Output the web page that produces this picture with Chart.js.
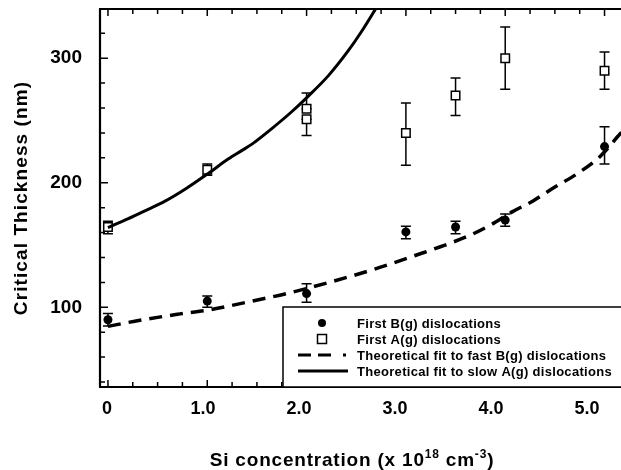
<!DOCTYPE html>
<html>
<head>
<meta charset="utf-8">
<script src="https://cdn.jsdelivr.net/npm/chart.js@4/dist/chart.umd.min.js"></script>
<style>
  html, body { margin: 0; padding: 0; background: #fff; overflow: hidden; }
  canvas { display: block; }
</style>
</head>
<body>
<canvas id="chart" width="640" height="470"></canvas>
<script>
// ── Data ───────────────────────────────────────────────────────────────────
// First B(g) dislocations (filled circles) with error bar ends
const B_X  = [0, 1, 2, 3, 3.5, 4, 5];
const B_Y  = [90, 105, 111, 160.5, 164.5, 170, 229];
const B_LO = [85, 100, 104, 155, 159, 165, 215];
const B_HI = [95, 109, 119, 165, 169, 175, 245];

// First A(g) dislocations (open squares) with error bar ends
const A_X  = [0, 1, 2, 2, 3, 3.5, 4, 5];
const A_Y  = [164.5, 210.5, 259.5, 251, 240, 270, 300, 290];
const A_LO = [159, 206, 259.5, 238, 214, 254, 275, 275];
const A_HI = [169, 215, 272, 251, 264, 284, 325, 305];

// Theoretical fit to fast B(g) dislocations (dashed)
const FIT_B_X = [0, 0.27, 0.7, 1.0, 1.41, 1.8, 2.24, 2.7, 3.1, 3.34, 3.65, 3.85, 4.07, 4.28, 4.5, 4.72, 4.95, 5.16, 5.25];
const FIT_B_Y = [84.7, 88.8, 94.4, 97.6, 104.3, 111, 120.3, 131, 141.8, 148.4, 158, 166, 176.6, 185.4, 196.6, 207, 220.7, 239.5, 247];

// Theoretical fit to slow A(g) dislocations (solid)
const FIT_A_X = [0, 0.2, 0.4, 0.57, 0.78, 1.01, 1.21, 1.35, 1.45, 1.65, 1.85, 2.01, 2.22, 2.42, 2.55, 2.69, 2.75];
const FIT_A_Y = [164, 171, 178.5, 185, 195, 207.5, 219, 226, 231, 243.5, 257, 269, 286, 306, 321, 339, 347];

// Axis ticks
const X_TICKS      = [0, 0.25, 0.5, 0.75, 1, 1.25, 1.5, 1.75, 2, 2.25, 2.5, 2.75, 3, 3.25, 3.5, 3.75, 4, 4.25, 4.5, 4.75, 5, 5.25];
const X_LABEL_VALS = [0, 1, 2, 3, 4, 5];
const X_LABELS     = ['0', '1.0', '2.0', '3.0', '4.0', '5.0'];
const Y_TICKS      = [40, 60, 80, 100, 120, 140, 160, 180, 200, 220, 240, 260, 280, 300, 320];
const Y_LABELS     = [100, 200, 300];

const LEGEND_TEXT = [
  'First B(g) dislocations',
  'First A(g) dislocations',
  'Theoretical fit to fast B(g) dislocations',
  'Theoretical fit to slow A(g) dislocations',
];

const FONT = '"Liberation Sans", Arial, sans-serif';

function pts(xs, ys) { return xs.map((x, i) => ({ x, y: ys[i] })); }

// ── Plugin: error bars drawn under the markers ────────────────────────────
const errorBars = {
  id: 'errorBars',
  beforeDatasetsDraw(chart) {
    const { ctx } = chart;
    const xs = chart.scales.x, ys = chart.scales.y;
    const sets = [[B_X, B_LO, B_HI], [A_X, A_LO, A_HI]];
    ctx.save();
    ctx.strokeStyle = '#000';
    ctx.lineWidth = 1.5;
    sets.forEach(([X, LO, HI]) => {
      X.forEach((v, i) => {
        const px = xs.getPixelForValue(v);
        const lo = ys.getPixelForValue(LO[i]);
        const hi = ys.getPixelForValue(HI[i]);
        ctx.beginPath();
        ctx.moveTo(px, lo); ctx.lineTo(px, hi);
        ctx.moveTo(px - 5, lo); ctx.lineTo(px + 5, lo);
        ctx.moveTo(px - 5, hi); ctx.lineTo(px + 5, hi);
        ctx.stroke();
      });
    });
    ctx.restore();
  }
};

// ── Plugin: frame, inward ticks, titles, legend ───────────────────────────
const frame = {
  id: 'frame',
  afterDraw(chart) {
    const { ctx, chartArea: a } = chart;
    const xs = chart.scales.x, ys = chart.scales.y;
    ctx.save();
    ctx.strokeStyle = '#000';

    // inward ticks
    ctx.lineWidth = 1.5;
    ctx.beginPath();
    X_TICKS.forEach(v => {
      const px = xs.getPixelForValue(v);
      const len = Number.isInteger(v) ? 7 : 5;
      ctx.moveTo(px, a.bottom); ctx.lineTo(px, a.bottom - len);
      ctx.moveTo(px, a.top);    ctx.lineTo(px, a.top + len);
    });
    Y_TICKS.forEach(v => {
      const py = ys.getPixelForValue(v);
      const len = Y_LABELS.includes(v) ? 8 : 5;
      ctx.moveTo(a.left, py); ctx.lineTo(a.left + len, py);
    });
    ctx.stroke();

    // axis lines
    ctx.lineWidth = 2.2;
    ctx.beginPath();
    ctx.moveTo(a.left, a.top); ctx.lineTo(a.left, a.bottom);
    ctx.moveTo(a.left - 1, a.top); ctx.lineTo(chart.width, a.top);
    ctx.moveTo(a.left - 1, a.bottom); ctx.lineTo(chart.width, a.bottom);
    ctx.stroke();

    // legend box
    const lx = 283, ly = 307;
    ctx.fillStyle = '#fff';
    ctx.fillRect(lx, ly, chart.width - lx, a.bottom - ly);
    ctx.lineWidth = 1.5;
    ctx.strokeRect(lx, ly, chart.width - lx + 5, a.bottom - ly);

    const rows = [323, 339, 355, 371];
    const sx = 322;
    ctx.fillStyle = '#000';
    ctx.beginPath(); ctx.arc(sx, rows[0], 4, 0, Math.PI * 2); ctx.fill();
    ctx.lineWidth = 1.5;
    ctx.strokeRect(sx - 4.5, rows[1] - 4.5, 9, 9);
    ctx.lineWidth = 3;
    ctx.beginPath();
    ctx.moveTo(298, rows[2]); ctx.lineTo(311, rows[2]);
    ctx.moveTo(318, rows[2]); ctx.lineTo(331, rows[2]);
    ctx.moveTo(343, rows[2]); ctx.lineTo(346, rows[2]);
    ctx.moveTo(298, rows[3]); ctx.lineTo(348, rows[3]);
    ctx.stroke();

    ctx.font = 'bold 13px ' + FONT;
    ctx.letterSpacing = '0.3px';
    ctx.textBaseline = 'middle';
    ctx.textAlign = 'left';
    LEGEND_TEXT.forEach((t, i) => ctx.fillText(t, 357, rows[i] + 1));

    // y title
    ctx.font = 'bold 19px ' + FONT;
    ctx.letterSpacing = '1.1px';
    ctx.save();
    ctx.translate(22, (a.top + a.bottom) / 2);
    ctx.rotate(-Math.PI / 2);
    ctx.textAlign = 'center';
    ctx.fillText('Critical Thickness (nm)', 0, 0);
    ctx.restore();

    // x title with superscripts
    const parts = [
      ['Si concentration (x 10', 19, 0],
      ['18', 12, -8],
      [' cm', 19, 0],
      ['-3', 12, -8],
      [')', 19, 0],
    ];
    ctx.letterSpacing = '0.8px';
    ctx.textBaseline = 'alphabetic';
    ctx.textAlign = 'left';
    let w = 0;
    parts.forEach(([t, s]) => { ctx.font = `bold ${s}px ${FONT}`; w += ctx.measureText(t).width; });
    let x = 352 - w / 2;
    parts.forEach(([t, s, dy]) => {
      ctx.font = `bold ${s}px ${FONT}`;
      ctx.fillText(t, x, 466 + dy);
      x += ctx.measureText(t).width;
    });
    ctx.restore();
  }
};

// ── Chart ─────────────────────────────────────────────────────────────────
new Chart(document.getElementById('chart').getContext('2d'), {
  type: 'scatter',
  data: {
    datasets: [
      {
        label: 'Theoretical fit to fast B(g) dislocations',
        data: pts(FIT_B_X, FIT_B_Y),
        showLine: true,
        borderColor: '#000',
        borderWidth: 3.5,
        borderDash: [13, 8],
        pointRadius: 0,
        cubicInterpolationMode: 'monotone',
      },
      {
        label: 'Theoretical fit to slow A(g) dislocations',
        data: pts(FIT_A_X, FIT_A_Y),
        showLine: true,
        borderColor: '#000',
        borderWidth: 3,
        pointRadius: 0,
        cubicInterpolationMode: 'monotone',
      },
      {
        label: 'First B(g) dislocations',
        data: pts(B_X, B_Y),
        pointStyle: 'circle',
        pointRadius: 4.5,
        backgroundColor: '#000',
        borderColor: '#000',
        borderWidth: 0,
      },
      {
        label: 'First A(g) dislocations',
        data: pts(A_X, A_Y),
        pointStyle: 'rect',
        pointRadius: 6,
        backgroundColor: '#fff',
        borderColor: '#000',
        borderWidth: 1.5,
      },
    ]
  },
  options: {
    responsive: false,
    animation: false,
    devicePixelRatio: 1,
    layout: { padding: { left: 0, top: 9, right: 15.6, bottom: 0 } },
    plugins: { legend: { display: false }, tooltip: { enabled: false } },
    scales: {
      x: {
        type: 'linear', min: -0.08, max: 5.2, display: false,
      },
      xl: {
        type: 'linear', position: 'bottom', min: -0.0729, max: 5.39,
        grid: { display: false }, border: { display: false },
        afterBuildTicks: s => { s.ticks = X_LABEL_VALS.map(v => ({ value: v })); },
        afterFit: s => { s.height = 83; },
        ticks: {
          color: '#000', padding: 3, maxRotation: 0, autoSkip: false,
          font: { family: FONT, size: 18, weight: 'bold' },
          callback: (v, i) => X_LABELS[i],
        },
      },
      y: {
        type: 'linear', min: 36, max: 339.5,
        grid: { display: false }, border: { display: false },
        afterBuildTicks: s => { s.ticks = Y_LABELS.map(v => ({ value: v })); },
        afterFit: s => { s.width = 100; s.paddingTop = 0; s.paddingBottom = 0; },
        ticks: {
          color: '#000', padding: 10, autoSkip: false,
          font: { family: FONT, size: 19, weight: 'bold' },
        },
      },
    },
  },
  plugins: [errorBars, frame],
});
</script>
</body>
</html>
